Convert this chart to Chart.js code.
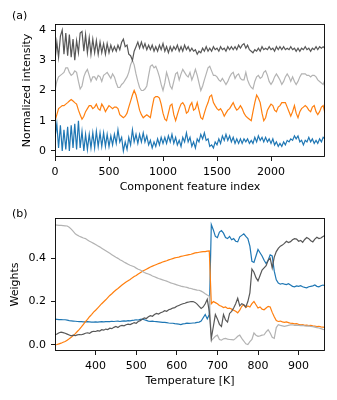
<!DOCTYPE html>
<html>
<head>
<meta charset="utf-8">
<script src="https://cdn.jsdelivr.net/npm/chart.js@4.4.1/dist/chart.umd.min.js"></script>
<style>
html,body{margin:0;padding:0;background:#fff;}
#wrap{position:relative;width:337px;height:400px;overflow:hidden;}
.panel{position:absolute;left:0;width:337px;height:200px;}
canvas{display:block;}
</style>
</head>
<body>
<div id="wrap">
  <div class="panel" style="top:0px"><canvas id="chartA" width="337" height="200"></canvas></div>
  <div class="panel" style="top:200px"><canvas id="chartB" width="337" height="200"></canvas></div>
</div>
<script>
// ---------- Panel (a): component spectra ----------
const featureIndex = [0,17,33,50,67,83,100,117,133,150,167,183,200,217,233,250,267,283,300,317,333,350,367,383,400,417,433,450,467,483,500,517,533,550,567,583,600,617,633,650,667,683,700,717,733,750,767,783,800,817,833,850,867,883,900,917,933,950,967,983,1000,1017,1033,1050,1067,1083,1100,1117,1133,1150,1167,1183,1200,1217,1233,1250,1267,1283,1300,1317,1333,1350,1367,1383,1400,1417,1433,1450,1467,1483,1500,1517,1533,1550,1567,1583,1600,1617,1633,1650,1667,1683,1700,1717,1733,1750,1767,1783,1800,1817,1833,1850,1867,1883,1900,1917,1933,1950,1967,1983,2000,2017,2033,2050,2067,2083,2100,2117,2133,2150,2167,2183,2200,2217,2233,2250,2267,2283,2300,2317,2333,2350,2367,2383,2400,2417,2433,2450,2467,2483,2500];

const blueIntensity = [0.45,0.9,0.1,0.85,0.0,0.7,0.05,0.8,0.0,0.85,
 0.1,0.9,0.05,1.0,0.1,0.65,0.0,0.55,0.05,0.55,
 0.1,0.6,0.1,0.65,0.15,0.6,0.15,0.6,0.15,0.55,
 0.15,0.5,0.2,0.55,0.25,0.7,0.3,0.45,0.0,0.3,
 0.05,0.45,0.2,0.7,0.3,0.55,0.25,0.55,0.3,0.6,
 0.3,0.5,0.2,0.35,0.1,0.3,0.15,0.4,0.2,0.45,
 0.25,0.45,0.25,0.5,0.3,0.55,0.25,0.45,0.2,0.35,
 0.15,0.45,0.3,0.6,0.3,0.45,0.15,0.3,0.1,0.4,
 0.3,0.55,0.4,0.6,0.35,0.4,0.15,0.2,0.1,0.3,
 0.2,0.4,0.25,0.5,0.35,0.55,0.35,0.5,0.3,0.45,
 0.25,0.4,0.25,0.4,0.25,0.4,0.3,0.4,0.25,0.35,
 0.25,0.45,0.3,0.5,0.35,0.45,0.3,0.45,0.3,0.4,
 0.25,0.4,0.2,0.3,0.15,0.25,0.15,0.3,0.2,0.35,
 0.3,0.4,0.35,0.5,0.4,0.5,0.3,0.35,0.2,0.35,
 0.3,0.45,0.3,0.4,0.25,0.35,0.25,0.4,0.3,0.45,
 0.4];

const orangeIntensity = [1.0,1.2,1.4,1.45,1.5,1.5,1.55,1.6,1.65,1.7,
 1.65,1.6,1.55,1.35,1.2,1.05,1.15,1.3,1.4,1.5,
 1.5,1.4,1.45,1.55,1.4,1.35,1.55,1.45,1.3,1.4,
 1.5,1.45,1.4,1.45,1.45,1.4,1.2,1.15,1.1,1.15,
 1.25,1.45,1.65,1.85,2.0,1.85,1.6,1.35,1.2,1.1,
 1.15,1.2,1.15,1.1,1.45,1.75,1.8,1.8,1.75,1.55,
 1.25,1.05,1.0,1.25,1.5,1.55,1.2,1.0,1.2,1.4,
 1.55,1.6,1.5,1.25,1.3,1.5,1.6,1.35,1.4,1.6,
 1.35,1.1,1.05,1.25,1.45,1.6,1.8,1.85,1.6,1.5,
 1.4,1.35,1.4,1.3,1.15,1.25,1.35,1.4,1.5,1.6,
 1.45,1.35,1.4,1.5,1.4,1.25,1.15,1.1,1.05,1.0,
 1.3,1.6,1.85,1.75,1.6,1.25,1.0,1.1,1.35,1.45,
 1.55,1.5,1.35,1.3,1.45,1.5,1.6,1.6,1.6,1.45,
 1.3,1.15,1.3,1.5,1.25,1.1,1.3,1.4,1.45,1.5,
 1.45,1.35,1.3,1.45,1.5,1.3,1.2,1.3,1.45,1.5,
 1.25];

const lightIntensity = [2.0,2.3,2.45,2.5,2.55,2.6,2.75,2.75,2.6,2.5,
 2.55,2.65,2.6,2.3,2.05,2.15,2.45,2.6,2.7,2.5,
 2.3,2.45,2.45,2.35,2.5,2.45,2.3,2.5,2.55,2.6,
 2.5,2.4,2.55,2.45,2.25,2.1,2.1,2.2,2.25,2.35,
 2.45,2.6,2.85,3.0,2.85,2.55,2.3,2.1,2.0,2.0,
 2.05,2.15,2.5,2.8,2.85,2.75,2.8,2.65,2.45,2.2,
 2.0,2.25,2.6,2.4,2.15,2.05,2.3,2.55,2.6,2.35,
 2.55,2.7,2.6,2.5,2.45,2.6,2.35,2.5,2.7,2.5,
 2.25,2.0,2.15,2.35,2.55,2.75,2.8,2.65,2.5,2.5,
 2.45,2.35,2.3,2.4,2.3,2.2,2.3,2.45,2.55,2.6,
 2.4,2.5,2.55,2.4,2.35,2.35,2.6,2.35,2.2,2.1,
 2.05,2.3,2.45,2.5,2.4,2.45,2.6,2.65,2.5,2.3,
 2.2,2.3,2.45,2.55,2.45,2.35,2.2,2.3,2.45,2.55,
 2.45,2.3,2.45,2.3,2.2,2.3,2.45,2.55,2.55,2.55,
 2.5,2.5,2.45,2.5,2.5,2.45,2.35,2.3,2.25,2.2,
 2.35];

const darkIntensity = [3.0,3.6,3.1,3.8,4.0,3.2,3.9,3.15,3.85,3.1,
 3.7,3.0,3.65,3.25,3.9,3.95,3.3,3.85,3.25,3.75,
 3.2,3.7,3.25,3.65,3.2,3.6,3.25,3.55,3.2,3.55,
 3.25,3.5,3.3,3.45,3.3,3.5,3.35,3.6,3.7,3.45,
 3.5,3.2,3.15,3.0,3.3,3.45,3.6,3.4,3.6,3.4,
 3.55,3.35,3.5,3.35,3.5,3.3,3.45,3.3,3.5,3.35,
 3.55,3.3,3.45,3.25,3.45,3.3,3.45,3.35,3.5,3.3,
 3.45,3.3,3.5,3.35,3.45,3.3,3.4,3.3,3.35,3.2,
 3.3,3.25,3.4,3.3,3.45,3.3,3.4,3.3,3.45,3.35,
 3.4,3.3,3.45,3.35,3.4,3.3,3.45,3.35,3.45,3.35,
 3.45,3.35,3.5,3.4,3.5,3.55,3.4,3.5,3.35,3.3,
 3.25,3.35,3.3,3.4,3.3,3.45,3.35,3.4,3.35,3.45,
 3.35,3.4,3.3,3.45,3.35,3.45,3.35,3.45,3.35,3.4,
 3.35,3.45,3.35,3.4,3.3,3.4,3.3,3.4,3.35,3.45,
 3.35,3.4,3.3,3.4,3.35,3.45,3.35,3.45,3.4,3.45,
 3.4];

const featureTicks = [0,500,1000,1500,2000];
const intensityTicks = [0,1,2,3,4];

// ---------- Panel (b): component weights vs temperature ----------
const temperature = [300,305,310,315,320,325,330,335,340,345,350,355,360,365,370,375,380,385,390,395,400,405,410,415,420,425,430,435,440,445,450,455,460,465,470,475,480,485,490,495,500,505,510,515,520,525,530,535,540,545,550,555,560,565,570,575,580,585,590,595,600,605,610,615,620,625,630,635,640,645,650,655,660,665,670,675,680,685,690,695,700,705,710,715,720,725,730,735,740,745,750,755,760,765,770,775,780,785,790,795,800,805,810,815,820,825,830,835,840,845,850,855,860,865,870,875,880,885,890,895,900,905,910,915,920,925,930,935,940,945,950,955,960,965];

const blueWeight = [0.119,0.118,0.117,0.117,0.116,0.116,0.114,0.112,0.111,0.11,
 0.109,0.108,0.107,0.107,0.106,0.106,0.107,0.106,0.105,0.105,
 0.106,0.105,0.106,0.107,0.106,0.107,0.108,0.107,0.109,0.108,
 0.109,0.11,0.108,0.11,0.111,0.11,0.112,0.111,0.113,0.114,
 0.116,0.115,0.118,0.119,0.116,0.113,0.11,0.109,0.11,0.108,
 0.107,0.106,0.105,0.104,0.104,0.103,0.101,0.1,0.1,0.098,
 0.097,0.096,0.094,0.097,0.098,0.1,0.099,0.1,0.101,0.102,
 0.104,0.105,0.11,0.125,0.14,0.12,0.14,
 0.555,0.53,0.5,0.495,0.52,0.527,0.515,0.495,0.49,0.5,
 0.485,0.49,0.478,0.475,0.498,0.505,0.512,0.5,0.49,0.455,
 0.385,0.38,0.41,0.44,0.425,0.41,0.39,0.375,0.39,0.415,
 0.41,0.34,0.3,0.285,0.28,0.283,0.28,0.278,0.282,0.276,
 0.27,0.268,0.272,0.27,0.273,0.268,0.265,0.263,0.268,0.27,
 0.272,0.276,0.27,0.268,0.273,0.276,0.273];

const orangeWeight = [0.0,0.002,0.005,0.008,0.012,0.016,0.022,0.028,0.035,0.043,
 0.052,0.062,0.072,0.083,0.095,0.107,0.118,0.13,0.14,0.151,
 0.16,0.17,0.18,0.19,0.199,0.208,0.218,0.228,0.236,0.245,
 0.253,0.26,0.268,0.276,0.283,0.29,0.296,0.302,0.309,0.315,
 0.32,0.327,0.333,0.339,0.344,0.349,0.354,0.359,0.363,0.367,
 0.371,0.375,0.378,0.382,0.385,0.388,0.392,0.395,0.398,0.401,
 0.403,0.405,0.408,0.41,0.412,0.414,0.416,0.418,0.421,0.424,
 0.425,0.427,0.429,0.43,0.43,0.432,0.433,
 0.19,0.2,0.195,0.19,0.182,0.178,0.172,0.175,0.168,0.17,
 0.165,0.16,0.155,0.148,0.16,0.178,0.185,0.172,0.18,0.175,
 0.19,0.2,0.185,0.17,0.175,0.165,0.162,0.17,0.178,0.175,
 0.15,0.13,0.112,0.108,0.11,0.106,0.104,0.106,0.103,0.1,
 0.099,0.097,0.098,0.095,0.093,0.094,0.09,0.091,0.089,0.09,
 0.088,0.087,0.085,0.086,0.083,0.082,0.081];

const lightWeight = [0.553,0.552,0.551,0.551,0.55,0.549,0.548,0.542,0.534,0.523,
 0.512,0.506,0.501,0.497,0.493,0.49,0.484,0.478,0.473,0.468,
 0.463,0.457,0.452,0.446,0.44,0.434,0.428,0.422,0.416,0.41,
 0.404,0.399,0.393,0.388,0.382,0.377,0.372,0.367,0.364,0.36,
 0.354,0.349,0.345,0.34,0.334,0.33,0.327,0.323,0.318,0.314,
 0.31,0.306,0.303,0.3,0.297,0.294,0.29,0.286,0.283,0.28,
 0.277,0.274,0.271,0.269,0.267,0.265,0.262,0.26,0.257,0.255,
 0.253,0.252,0.248,0.243,0.236,0.23,0.225,
 0.02,0.03,0.04,0.045,0.025,0.022,0.028,0.03,0.027,0.025,
 0.024,0.023,0.03,0.04,0.045,0.03,0.018,0.005,0.002,0.015,
 0.025,0.055,0.045,0.04,0.042,0.045,0.047,0.06,0.07,0.055,
 0.035,0.03,0.08,0.093,0.09,0.088,0.086,0.088,0.09,0.092,
 0.093,0.09,0.091,0.09,0.089,0.09,0.088,0.087,0.088,0.085,
 0.084,0.082,0.08,0.078,0.075,0.072,0.07];

const darkWeight = [0.047,0.05,0.056,0.059,0.057,0.054,0.05,0.046,0.042,0.045,
 0.043,0.046,0.048,0.047,0.05,0.054,0.056,0.053,0.06,0.063,
 0.062,0.066,0.064,0.07,0.068,0.073,0.071,0.077,0.075,0.081,
 0.085,0.08,0.087,0.09,0.088,0.093,0.096,0.094,0.098,0.103,
 0.1,0.108,0.112,0.118,0.125,0.122,0.13,0.135,0.132,0.14,
 0.145,0.142,0.148,0.152,0.158,0.155,0.162,0.165,0.17,0.172,
 0.178,0.182,0.186,0.19,0.192,0.196,0.198,0.2,0.2,0.196,
 0.188,0.178,0.168,0.175,0.19,0.21,0.155,
 0.03,0.085,0.14,0.12,0.095,0.085,0.14,0.115,0.105,0.145,
 0.155,0.17,0.19,0.215,0.18,0.19,0.185,0.175,0.2,0.24,
 0.35,0.335,0.31,0.295,0.32,0.345,0.355,0.365,0.39,0.4,
 0.355,0.405,0.43,0.445,0.455,0.46,0.468,0.478,0.472,0.476,
 0.485,0.49,0.488,0.478,0.482,0.473,0.486,0.495,0.49,0.48,
 0.475,0.488,0.496,0.49,0.493,0.5,0.504];

const temperatureTicks = [400,500,600,700,800,900];
const weightTicks = [0.0,0.2,0.4];

// ---------- styling ----------
const COLORS = { blue:'#1f77b4', orange:'#ff7f0e', light:'#b3b3b3', dark:'#575757' };
const FONT_FAMILY = '"DejaVu Sans", sans-serif';

Chart.defaults.font.family = FONT_FAMILY;
Chart.defaults.font.size = 11;
Chart.defaults.color = '#000';

const framePlugin = {
  id: 'frameAndLetter',
  afterDatasetsDraw(chart, args, opts) {
    const { ctx, chartArea: a } = chart;
    ctx.save();
    ctx.strokeStyle = '#000';
    ctx.lineWidth = 0.9;
    const x0 = Math.round(a.left) + 0.5, y0 = Math.round(a.top) + 0.5;
    const x1 = Math.round(a.right) - 0.5, y1 = Math.round(a.bottom) - 0.5;
    ctx.strokeRect(x0, y0, x1 - x0, y1 - y0);
    ctx.restore();
  },
  afterDraw(chart, args, opts) {
    const { ctx } = chart;
    ctx.save();
    ctx.fillStyle = '#000';
    ctx.font = '11px ' + FONT_FAMILY;
    ctx.textBaseline = 'alphabetic';
    ctx.textAlign = 'left';
    ctx.fillText(opts.text, opts.x, opts.y);
    ctx.restore();
  }
};

function fixedTicks(values) {
  return scale => { scale.ticks = values.map(v => ({ value: v })); };
}

function lineSet(data, color) {
  return { data, borderColor: color, backgroundColor: color, borderWidth: 1.2,
           pointRadius: 0, tension: 0, fill: false };
}

function axisCommon(extra) {
  return Object.assign({
    type: 'linear',
    border: { display: false },
    grid: { display: true, drawOnChartArea: false, drawTicks: true,
            tickLength: 4, tickWidth: 0.9, tickColor: '#000', color: '#000' }
  }, extra);
}

function makePanel(id, p) {
  return new Chart(document.getElementById(id), {
    type: 'line',
    data: {
      labels: p.labels,
      // later datasets are drawn underneath in Chart.js, so list dark gray first
      datasets: [
        lineSet(p.dark, COLORS.dark),
        lineSet(p.light, COLORS.light),
        lineSet(p.orange, COLORS.orange),
        lineSet(p.blue, COLORS.blue)
      ]
    },
    options: {
      responsive: false,
      animation: false,
      devicePixelRatio: 1,
      layout: { padding: { top: p.padTop, right: 12, left: 0, bottom: 0 } },
      plugins: {
        legend: { display: false },
        tooltip: { enabled: false },
        frameAndLetter: { text: p.letter, x: 12, y: p.letterY }
      },
      scales: {
        x: axisCommon({
          min: p.xMin, max: p.xMax,
          afterBuildTicks: fixedTicks(p.xTicks),
          afterFit: s => { s.height = p.xAxisHeight; },
          ticks: { padding: 5, maxRotation: 0, autoSkip: false, color: '#000',
                   callback: v => String(v) },
          title: { display: true, text: p.xTitle, color: '#000',
                   font: { size: 11 }, padding: { top: 0, bottom: p.xTitlePad } }
        }),
        y: axisCommon({
          min: p.yMin, max: p.yMax,
          afterBuildTicks: fixedTicks(p.yTicks),
          afterFit: s => { s.width = 55; },
          ticks: { padding: 5, color: '#000', callback: p.yFormat },
          title: { display: true, text: p.yTitle, color: '#000',
                   font: { size: 11 }, padding: { top: p.yTitlePad, bottom: 0 } }
        })
      }
    },
    plugins: [framePlugin]
  });
}

makePanel('chartA', {
  labels: featureIndex,
  blue: blueIntensity, orange: orangeIntensity, light: lightIntensity, dark: darkIntensity,
  xMin: 0, xMax: 2500, xTicks: featureTicks,
  yMin: -0.2, yMax: 4.2, yTicks: intensityTicks,
  yFormat: v => String(v),
  padTop: 24, xAxisHeight: 43,
  xTitle: 'Component feature index', xTitlePad: 5.8,
  yTitle: 'Normalized intensity', yTitlePad: 20.4,
  letter: '(a)', letterY: 19
});

makePanel('chartB', {
  labels: temperature,
  blue: blueWeight, orange: orangeWeight, light: lightWeight, dark: darkWeight,
  xMin: 300, xMax: 965, xTicks: temperatureTicks,
  yMin: -0.028, yMax: 0.585, yTicks: weightTicks,
  yFormat: v => v.toFixed(1),
  padTop: 18, xAxisHeight: 49,
  xTitle: 'Temperature [K]', xTitlePad: 12,
  yTitle: 'Weights', yTitlePad: 8.7,
  letter: '(b)', letterY: 16.5
});
</script>
</body>
</html>
